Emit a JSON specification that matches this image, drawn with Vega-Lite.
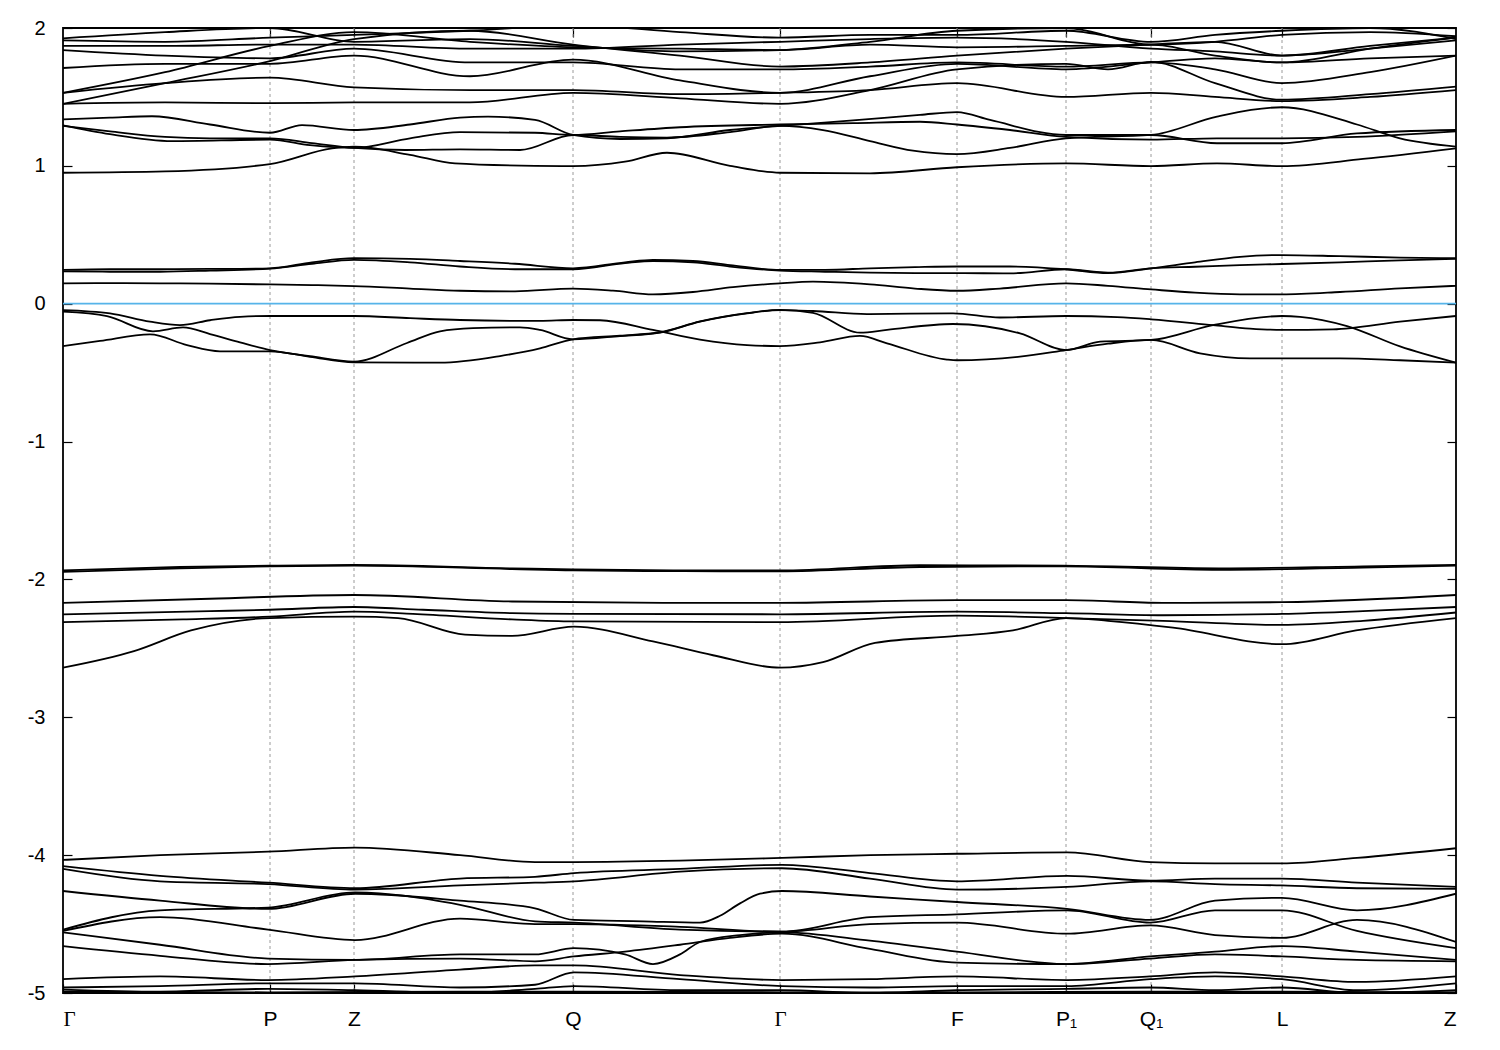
{
"$schema":"https://vega.github.io/schema/vega-lite/v6.json",
"width":1393,"height":965,
"autosize":{"type":"none"},
"padding":{"left":63,"top":28,"right":44,"bottom":57},
"background":"white",
"config":{"view":{"stroke":"#000","strokeWidth":1.8},"axis":{"labelFont":"Liberation Sans","labelFontSize":20,"labelColor":"#000","tickColor":"#000","tickWidth":1.2}},
"datasets":{
"sym":[{"k":207},{"k":291},{"k":510},{"k":717},{"k":894},{"k":1003},{"k":1088},{"k":1219}],
"fermi":[{"e":0}],
"bands":[
{"b":"C0","k":0,"e":0.148},{"b":"C0","k":47,"e":0.15},{"b":"C0","k":97,"e":0.148},{"b":"C0","k":147,"e":0.145},{"b":"C0","k":207,"e":0.14},{"b":"C0","k":249,"e":0.135},{"b":"C0","k":291,"e":0.128},{"b":"C0","k":347,"e":0.11},{"b":"C0","k":397,"e":0.094},{"b":"C0","k":452,"e":0.09},{"b":"C0","k":510,"e":0.11},{"b":"C0","k":550,"e":0.095},{"b":"C0","k":590,"e":0.068},{"b":"C0","k":630,"e":0.085},{"b":"C0","k":670,"e":0.12},{"b":"C0","k":717,"e":0.148},{"b":"C0","k":750,"e":0.16},{"b":"C0","k":807,"e":0.14},{"b":"C0","k":852,"e":0.11},{"b":"C0","k":894,"e":0.094},{"b":"C0","k":937,"e":0.11},{"b":"C0","k":1003,"e":0.148},{"b":"C0","k":1045,"e":0.13},{"b":"C0","k":1088,"e":0.104},{"b":"C0","k":1132,"e":0.08},{"b":"C0","k":1177,"e":0.068},{"b":"C0","k":1219,"e":0.068},{"b":"C0","k":1277,"e":0.085},{"b":"C0","k":1337,"e":0.112},{"b":"C0","k":1393,"e":0.13},
{"b":"C1","k":0,"e":0.245},{"b":"C1","k":47,"e":0.25},{"b":"C1","k":97,"e":0.25},{"b":"C1","k":147,"e":0.252},{"b":"C1","k":207,"e":0.257},{"b":"C1","k":249,"e":0.3},{"b":"C1","k":291,"e":0.33},{"b":"C1","k":347,"e":0.325},{"b":"C1","k":397,"e":0.31},{"b":"C1","k":452,"e":0.29},{"b":"C1","k":510,"e":0.257},{"b":"C1","k":562,"e":0.3},{"b":"C1","k":590,"e":0.317},{"b":"C1","k":630,"e":0.31},{"b":"C1","k":667,"e":0.28},{"b":"C1","k":717,"e":0.245},{"b":"C1","k":762,"e":0.245},{"b":"C1","k":807,"e":0.257},{"b":"C1","k":852,"e":0.265},{"b":"C1","k":894,"e":0.27},{"b":"C1","k":947,"e":0.27},{"b":"C1","k":1003,"e":0.25},{"b":"C1","k":1045,"e":0.222},{"b":"C1","k":1088,"e":0.257},{"b":"C1","k":1132,"e":0.3},{"b":"C1","k":1177,"e":0.34},{"b":"C1","k":1219,"e":0.353},{"b":"C1","k":1277,"e":0.345},{"b":"C1","k":1337,"e":0.335},{"b":"C1","k":1393,"e":0.33},
{"b":"C2","k":0,"e":0.235},{"b":"C2","k":47,"e":0.232},{"b":"C2","k":97,"e":0.232},{"b":"C2","k":147,"e":0.24},{"b":"C2","k":207,"e":0.255},{"b":"C2","k":249,"e":0.29},{"b":"C2","k":291,"e":0.318},{"b":"C2","k":347,"e":0.3},{"b":"C2","k":397,"e":0.27},{"b":"C2","k":452,"e":0.25},{"b":"C2","k":510,"e":0.25},{"b":"C2","k":562,"e":0.295},{"b":"C2","k":590,"e":0.31},{"b":"C2","k":630,"e":0.3},{"b":"C2","k":667,"e":0.27},{"b":"C2","k":717,"e":0.24},{"b":"C2","k":762,"e":0.232},{"b":"C2","k":807,"e":0.225},{"b":"C2","k":852,"e":0.222},{"b":"C2","k":894,"e":0.222},{"b":"C2","k":947,"e":0.22},{"b":"C2","k":1003,"e":0.25},{"b":"C2","k":1045,"e":0.225},{"b":"C2","k":1088,"e":0.257},{"b":"C2","k":1132,"e":0.268},{"b":"C2","k":1177,"e":0.28},{"b":"C2","k":1219,"e":0.288},{"b":"C2","k":1277,"e":0.3},{"b":"C2","k":1337,"e":0.315},{"b":"C2","k":1393,"e":0.325},
{"b":"V1","k":0,"e":-0.046},{"b":"V1","k":47,"e":-0.07},{"b":"V1","k":87,"e":-0.13},{"b":"V1","k":117,"e":-0.155},{"b":"V1","k":147,"e":-0.12},{"b":"V1","k":177,"e":-0.095},{"b":"V1","k":207,"e":-0.089},{"b":"V1","k":291,"e":-0.089},{"b":"V1","k":347,"e":-0.105},{"b":"V1","k":397,"e":-0.118},{"b":"V1","k":477,"e":-0.125},{"b":"V1","k":510,"e":-0.118},{"b":"V1","k":537,"e":-0.12},{"b":"V1","k":590,"e":-0.19},{"b":"V1","k":637,"e":-0.26},{"b":"V1","k":684,"e":-0.3},{"b":"V1","k":717,"e":-0.307},{"b":"V1","k":757,"e":-0.28},{"b":"V1","k":797,"e":-0.234},{"b":"V1","k":824,"e":-0.287},{"b":"V1","k":884,"e":-0.405},{"b":"V1","k":894,"e":-0.41},{"b":"V1","k":957,"e":-0.384},{"b":"V1","k":1003,"e":-0.336},{"b":"V1","k":1045,"e":-0.29},{"b":"V1","k":1088,"e":-0.263},{"b":"V1","k":1137,"e":-0.36},{"b":"V1","k":1187,"e":-0.396},{"b":"V1","k":1219,"e":-0.396},{"b":"V1","k":1277,"e":-0.396},{"b":"V1","k":1337,"e":-0.41},{"b":"V1","k":1393,"e":-0.428},
{"b":"V2","k":0,"e":-0.058},{"b":"V2","k":44,"e":-0.09},{"b":"V2","k":90,"e":-0.2},{"b":"V2","k":120,"e":-0.172},{"b":"V2","k":147,"e":-0.22},{"b":"V2","k":177,"e":-0.28},{"b":"V2","k":207,"e":-0.336},{"b":"V2","k":247,"e":-0.38},{"b":"V2","k":291,"e":-0.42},{"b":"V2","k":344,"e":-0.285},{"b":"V2","k":377,"e":-0.2},{"b":"V2","k":410,"e":-0.177},{"b":"V2","k":457,"e":-0.171},{"b":"V2","k":477,"e":-0.19},{"b":"V2","k":510,"e":-0.258},{"b":"V2","k":557,"e":-0.235},{"b":"V2","k":597,"e":-0.21},{"b":"V2","k":637,"e":-0.13},{"b":"V2","k":684,"e":-0.07},{"b":"V2","k":717,"e":-0.046},{"b":"V2","k":750,"e":-0.053},{"b":"V2","k":804,"e":-0.075},{"b":"V2","k":890,"e":-0.07},{"b":"V2","k":937,"e":-0.1},{"b":"V2","k":1003,"e":-0.089},{"b":"V2","k":1054,"e":-0.097},{"b":"V2","k":1088,"e":-0.113},{"b":"V2","k":1150,"e":-0.155},{"b":"V2","k":1187,"e":-0.18},{"b":"V2","k":1219,"e":-0.19},{"b":"V2","k":1270,"e":-0.186},{"b":"V2","k":1337,"e":-0.13},{"b":"V2","k":1393,"e":-0.089},
{"b":"V3","k":0,"e":-0.307},{"b":"V3","k":37,"e":-0.27},{"b":"V3","k":87,"e":-0.222},{"b":"V3","k":124,"e":-0.3},{"b":"V3","k":157,"e":-0.345},{"b":"V3","k":207,"e":-0.345},{"b":"V3","k":247,"e":-0.385},{"b":"V3","k":291,"e":-0.425},{"b":"V3","k":377,"e":-0.428},{"b":"V3","k":437,"e":-0.38},{"b":"V3","k":477,"e":-0.324},{"b":"V3","k":510,"e":-0.258},{"b":"V3","k":557,"e":-0.232},{"b":"V3","k":597,"e":-0.207},{"b":"V3","k":637,"e":-0.128},{"b":"V3","k":684,"e":-0.068},{"b":"V3","k":717,"e":-0.044},{"b":"V3","k":750,"e":-0.067},{"b":"V3","k":797,"e":-0.21},{"b":"V3","k":824,"e":-0.19},{"b":"V3","k":890,"e":-0.147},{"b":"V3","k":957,"e":-0.215},{"b":"V3","k":1003,"e":-0.336},{"b":"V3","k":1037,"e":-0.275},{"b":"V3","k":1088,"e":-0.263},{"b":"V3","k":1150,"e":-0.155},{"b":"V3","k":1219,"e":-0.089},{"b":"V3","k":1237,"e":-0.095},{"b":"V3","k":1284,"e":-0.162},{"b":"V3","k":1337,"e":-0.31},{"b":"V3","k":1393,"e":-0.428},
{"b":"D1","k":0,"e":-1.935},{"b":"D1","k":117,"e":-1.91},{"b":"D1","k":207,"e":-1.9},{"b":"D1","k":291,"e":-1.895},{"b":"D1","k":449,"e":-1.92},{"b":"D1","k":510,"e":-1.928},{"b":"D1","k":620,"e":-1.935},{"b":"D1","k":717,"e":-1.935},{"b":"D1","k":857,"e":-1.897},{"b":"D1","k":1000,"e":-1.9},{"b":"D1","k":1156,"e":-1.92},{"b":"D1","k":1300,"e":-1.905},{"b":"D1","k":1393,"e":-1.895},
{"b":"D2","k":0,"e":-1.945},{"b":"D2","k":117,"e":-1.92},{"b":"D2","k":207,"e":-1.905},{"b":"D2","k":291,"e":-1.9},{"b":"D2","k":449,"e":-1.925},{"b":"D2","k":510,"e":-1.935},{"b":"D2","k":620,"e":-1.94},{"b":"D2","k":717,"e":-1.942},{"b":"D2","k":857,"e":-1.91},{"b":"D2","k":1000,"e":-1.905},{"b":"D2","k":1156,"e":-1.93},{"b":"D2","k":1300,"e":-1.915},{"b":"D2","k":1393,"e":-1.9},
{"b":"D3","k":0,"e":-2.17},{"b":"D3","k":147,"e":-2.14},{"b":"D3","k":291,"e":-2.113},{"b":"D3","k":449,"e":-2.16},{"b":"D3","k":600,"e":-2.17},{"b":"D3","k":717,"e":-2.17},{"b":"D3","k":894,"e":-2.15},{"b":"D3","k":1003,"e":-2.15},{"b":"D3","k":1100,"e":-2.17},{"b":"D3","k":1219,"e":-2.165},{"b":"D3","k":1393,"e":-2.113},
{"b":"D4","k":0,"e":-2.253},{"b":"D4","k":147,"e":-2.23},{"b":"D4","k":207,"e":-2.22},{"b":"D4","k":291,"e":-2.2},{"b":"D4","k":360,"e":-2.22},{"b":"D4","k":449,"e":-2.245},{"b":"D4","k":510,"e":-2.25},{"b":"D4","k":717,"e":-2.253},{"b":"D4","k":894,"e":-2.234},{"b":"D4","k":1003,"e":-2.245},{"b":"D4","k":1100,"e":-2.26},{"b":"D4","k":1219,"e":-2.25},{"b":"D4","k":1300,"e":-2.23},{"b":"D4","k":1393,"e":-2.2},
{"b":"D5","k":0,"e":-2.31},{"b":"D5","k":120,"e":-2.29},{"b":"D5","k":207,"e":-2.27},{"b":"D5","k":291,"e":-2.234},{"b":"D5","k":350,"e":-2.25},{"b":"D5","k":449,"e":-2.29},{"b":"D5","k":510,"e":-2.305},{"b":"D5","k":717,"e":-2.31},{"b":"D5","k":894,"e":-2.262},{"b":"D5","k":1003,"e":-2.28},{"b":"D5","k":1100,"e":-2.3},{"b":"D5","k":1219,"e":-2.33},{"b":"D5","k":1300,"e":-2.3},{"b":"D5","k":1393,"e":-2.24},
{"b":"D6","k":0,"e":-2.64},{"b":"D6","k":71,"e":-2.52},{"b":"D6","k":128,"e":-2.37},{"b":"D6","k":207,"e":-2.28},{"b":"D6","k":291,"e":-2.27},{"b":"D6","k":335,"e":-2.28},{"b":"D6","k":402,"e":-2.4},{"b":"D6","k":449,"e":-2.41},{"b":"D6","k":511,"e":-2.343},{"b":"D6","k":590,"e":-2.45},{"b":"D6","k":650,"e":-2.55},{"b":"D6","k":717,"e":-2.64},{"b":"D6","k":760,"e":-2.6},{"b":"D6","k":812,"e":-2.46},{"b":"D6","k":894,"e":-2.41},{"b":"D6","k":950,"e":-2.37},{"b":"D6","k":1003,"e":-2.28},{"b":"D6","k":1045,"e":-2.3},{"b":"D6","k":1110,"e":-2.35},{"b":"D6","k":1219,"e":-2.47},{"b":"D6","k":1293,"e":-2.37},{"b":"D6","k":1393,"e":-2.28},
{"b":"U1","k":0,"e":0.95},{"b":"U1","k":102,"e":0.96},{"b":"U1","k":207,"e":1.013},{"b":"U1","k":269,"e":1.127},{"b":"U1","k":291,"e":1.139},{"b":"U1","k":347,"e":1.08},{"b":"U1","k":392,"e":1.018},{"b":"U1","k":472,"e":1.0},{"b":"U1","k":510,"e":0.998},{"b":"U1","k":562,"e":1.03},{"b":"U1","k":604,"e":1.095},{"b":"U1","k":667,"e":1.0},{"b":"U1","k":717,"e":0.95},{"b":"U1","k":807,"e":0.946},{"b":"U1","k":894,"e":0.99},{"b":"U1","k":1003,"e":1.018},{"b":"U1","k":1088,"e":0.998},{"b":"U1","k":1154,"e":1.018},{"b":"U1","k":1219,"e":0.998},{"b":"U1","k":1300,"e":1.05},{"b":"U1","k":1393,"e":1.127},
{"b":"U2","k":0,"e":1.29},{"b":"U2","k":47,"e":1.25},{"b":"U2","k":102,"e":1.21},{"b":"U2","k":147,"e":1.2},{"b":"U2","k":207,"e":1.2},{"b":"U2","k":249,"e":1.165},{"b":"U2","k":291,"e":1.13},{"b":"U2","k":342,"e":1.115},{"b":"U2","k":397,"e":1.12},{"b":"U2","k":457,"e":1.115},{"b":"U2","k":510,"e":1.224},{"b":"U2","k":557,"e":1.21},{"b":"U2","k":604,"e":1.205},{"b":"U2","k":667,"e":1.245},{"b":"U2","k":717,"e":1.29},{"b":"U2","k":760,"e":1.26},{"b":"U2","k":807,"e":1.18},{"b":"U2","k":850,"e":1.11},{"b":"U2","k":894,"e":1.085},{"b":"U2","k":947,"e":1.13},{"b":"U2","k":1003,"e":1.2},{"b":"U2","k":1088,"e":1.224},{"b":"U2","k":1154,"e":1.357},{"b":"U2","k":1219,"e":1.425},{"b":"U2","k":1294,"e":1.3},{"b":"U2","k":1337,"e":1.2},{"b":"U2","k":1393,"e":1.14},
{"b":"U3","k":0,"e":1.337},{"b":"U3","k":47,"e":1.35},{"b":"U3","k":89,"e":1.36},{"b":"U3","k":147,"e":1.3},{"b":"U3","k":207,"e":1.24},{"b":"U3","k":239,"e":1.296},{"b":"U3","k":291,"e":1.26},{"b":"U3","k":347,"e":1.3},{"b":"U3","k":397,"e":1.35},{"b":"U3","k":425,"e":1.357},{"b":"U3","k":472,"e":1.333},{"b":"U3","k":510,"e":1.224},{"b":"U3","k":557,"e":1.195},{"b":"U3","k":604,"e":1.2},{"b":"U3","k":667,"e":1.26},{"b":"U3","k":717,"e":1.29},{"b":"U3","k":790,"e":1.33},{"b":"U3","k":857,"e":1.37},{"b":"U3","k":894,"e":1.39},{"b":"U3","k":927,"e":1.333},{"b":"U3","k":1003,"e":1.224},{"b":"U3","k":1088,"e":1.224},{"b":"U3","k":1154,"e":1.164},{"b":"U3","k":1219,"e":1.164},{"b":"U3","k":1294,"e":1.235},{"b":"U3","k":1393,"e":1.26},
{"b":"U4","k":0,"e":1.294},{"b":"U4","k":47,"e":1.23},{"b":"U4","k":109,"e":1.18},{"b":"U4","k":207,"e":1.19},{"b":"U4","k":247,"e":1.15},{"b":"U4","k":291,"e":1.13},{"b":"U4","k":347,"e":1.2},{"b":"U4","k":397,"e":1.245},{"b":"U4","k":472,"e":1.24},{"b":"U4","k":510,"e":1.224},{"b":"U4","k":557,"e":1.25},{"b":"U4","k":617,"e":1.28},{"b":"U4","k":717,"e":1.3},{"b":"U4","k":790,"e":1.31},{"b":"U4","k":857,"e":1.32},{"b":"U4","k":894,"e":1.3},{"b":"U4","k":947,"e":1.26},{"b":"U4","k":1003,"e":1.21},{"b":"U4","k":1088,"e":1.19},{"b":"U4","k":1154,"e":1.2},{"b":"U4","k":1219,"e":1.2},{"b":"U4","k":1294,"e":1.21},{"b":"U4","k":1393,"e":1.25},
{"b":"U5","k":0,"e":1.45},{"b":"U5","k":102,"e":1.46},{"b":"U5","k":207,"e":1.455},{"b":"U5","k":291,"e":1.46},{"b":"U5","k":407,"e":1.46},{"b":"U5","k":510,"e":1.53},{"b":"U5","k":617,"e":1.49},{"b":"U5","k":717,"e":1.45},{"b":"U5","k":807,"e":1.55},{"b":"U5","k":894,"e":1.7},{"b":"U5","k":1003,"e":1.74},{"b":"U5","k":1045,"e":1.7},{"b":"U5","k":1088,"e":1.755},{"b":"U5","k":1152,"e":1.6},{"b":"U5","k":1219,"e":1.48},{"b":"U5","k":1307,"e":1.52},{"b":"U5","k":1393,"e":1.575},
{"b":"U6","k":0,"e":1.53},{"b":"U6","k":102,"e":1.6},{"b":"U6","k":207,"e":1.64},{"b":"U6","k":291,"e":1.57},{"b":"U6","k":407,"e":1.55},{"b":"U6","k":510,"e":1.55},{"b":"U6","k":617,"e":1.52},{"b":"U6","k":717,"e":1.53},{"b":"U6","k":807,"e":1.55},{"b":"U6","k":894,"e":1.6},{"b":"U6","k":1003,"e":1.5},{"b":"U6","k":1088,"e":1.53},{"b":"U6","k":1152,"e":1.5},{"b":"U6","k":1219,"e":1.47},{"b":"U6","k":1307,"e":1.5},{"b":"U6","k":1393,"e":1.55},
{"b":"U7","k":0,"e":1.45},{"b":"U7","k":102,"e":1.6},{"b":"U7","k":207,"e":1.76},{"b":"U7","k":291,"e":1.92},{"b":"U7","k":407,"e":1.98},{"b":"U7","k":510,"e":1.88},{"b":"U7","k":617,"e":1.8},{"b":"U7","k":717,"e":1.72},{"b":"U7","k":807,"e":1.75},{"b":"U7","k":894,"e":1.8},{"b":"U7","k":1003,"e":1.85},{"b":"U7","k":1088,"e":1.88},{"b":"U7","k":1152,"e":1.9},{"b":"U7","k":1219,"e":1.8},{"b":"U7","k":1307,"e":1.85},{"b":"U7","k":1393,"e":1.91},
{"b":"U8","k":0,"e":1.53},{"b":"U8","k":102,"e":1.68},{"b":"U8","k":207,"e":1.87},{"b":"U8","k":291,"e":1.97},{"b":"U8","k":407,"e":1.9},{"b":"U8","k":510,"e":1.86},{"b":"U8","k":617,"e":1.85},{"b":"U8","k":717,"e":1.84},{"b":"U8","k":807,"e":1.88},{"b":"U8","k":894,"e":1.86},{"b":"U8","k":1003,"e":1.87},{"b":"U8","k":1088,"e":1.88},{"b":"U8","k":1152,"e":1.8},{"b":"U8","k":1219,"e":1.75},{"b":"U8","k":1307,"e":1.85},{"b":"U8","k":1393,"e":1.93},
{"b":"U9","k":0,"e":1.71},{"b":"U9","k":102,"e":1.74},{"b":"U9","k":207,"e":1.74},{"b":"U9","k":291,"e":1.8},{"b":"U9","k":407,"e":1.65},{"b":"U9","k":510,"e":1.77},{"b":"U9","k":617,"e":1.62},{"b":"U9","k":717,"e":1.53},{"b":"U9","k":807,"e":1.65},{"b":"U9","k":894,"e":1.74},{"b":"U9","k":1003,"e":1.7},{"b":"U9","k":1088,"e":1.75},{"b":"U9","k":1152,"e":1.78},{"b":"U9","k":1219,"e":1.75},{"b":"U9","k":1307,"e":1.78},{"b":"U9","k":1393,"e":1.8},
{"b":"U10","k":0,"e":1.87},{"b":"U10","k":102,"e":1.87},{"b":"U10","k":207,"e":1.88},{"b":"U10","k":291,"e":1.88},{"b":"U10","k":407,"e":1.85},{"b":"U10","k":510,"e":1.85},{"b":"U10","k":617,"e":1.88},{"b":"U10","k":717,"e":1.9},{"b":"U10","k":807,"e":1.92},{"b":"U10","k":894,"e":1.93},{"b":"U10","k":1003,"e":1.9},{"b":"U10","k":1088,"e":1.85},{"b":"U10","k":1152,"e":1.83},{"b":"U10","k":1219,"e":1.8},{"b":"U10","k":1307,"e":1.87},{"b":"U10","k":1393,"e":1.93},
{"b":"U11","k":0,"e":1.925},{"b":"U11","k":102,"e":1.97},{"b":"U11","k":207,"e":2.0},{"b":"U11","k":291,"e":1.9},{"b":"U11","k":407,"e":1.92},{"b":"U11","k":510,"e":1.87},{"b":"U11","k":617,"e":1.83},{"b":"U11","k":717,"e":1.84},{"b":"U11","k":807,"e":1.9},{"b":"U11","k":894,"e":1.98},{"b":"U11","k":1003,"e":2.0},{"b":"U11","k":1088,"e":1.88},{"b":"U11","k":1152,"e":1.9},{"b":"U11","k":1219,"e":1.95},{"b":"U11","k":1307,"e":1.97},{"b":"U11","k":1393,"e":1.94},
{"b":"U12","k":0,"e":1.91},{"b":"U12","k":102,"e":1.9},{"b":"U12","k":207,"e":1.93},{"b":"U12","k":291,"e":1.95},{"b":"U12","k":407,"e":1.98},{"b":"U12","k":510,"e":2.02},{"b":"U12","k":617,"e":1.97},{"b":"U12","k":717,"e":1.93},{"b":"U12","k":807,"e":1.95},{"b":"U12","k":894,"e":1.95},{"b":"U12","k":1003,"e":1.98},{"b":"U12","k":1088,"e":1.9},{"b":"U12","k":1152,"e":1.95},{"b":"U12","k":1219,"e":1.98},{"b":"U12","k":1307,"e":2.0},{"b":"U12","k":1393,"e":1.92},
{"b":"U13","k":0,"e":1.84},{"b":"U13","k":102,"e":1.8},{"b":"U13","k":207,"e":1.78},{"b":"U13","k":291,"e":1.85},{"b":"U13","k":407,"e":1.75},{"b":"U13","k":510,"e":1.75},{"b":"U13","k":617,"e":1.7},{"b":"U13","k":717,"e":1.7},{"b":"U13","k":807,"e":1.72},{"b":"U13","k":894,"e":1.75},{"b":"U13","k":1003,"e":1.72},{"b":"U13","k":1088,"e":1.75},{"b":"U13","k":1152,"e":1.7},{"b":"U13","k":1219,"e":1.6},{"b":"U13","k":1307,"e":1.68},{"b":"U13","k":1393,"e":1.8},
{"b":"B1","k":0,"e":-4.035},{"b":"B1","k":97,"e":-4.0},{"b":"B1","k":205,"e":-3.975},{"b":"B1","k":292,"e":-3.945},{"b":"B1","k":397,"e":-4.0},{"b":"B1","k":472,"e":-4.05},{"b":"B1","k":511,"e":-4.05},{"b":"B1","k":617,"e":-4.04},{"b":"B1","k":719,"e":-4.02},{"b":"B1","k":807,"e":-4.0},{"b":"B1","k":894,"e":-3.99},{"b":"B1","k":1004,"e":-3.98},{"b":"B1","k":1087,"e":-4.05},{"b":"B1","k":1152,"e":-4.06},{"b":"B1","k":1219,"e":-4.06},{"b":"B1","k":1294,"e":-4.02},{"b":"B1","k":1393,"e":-3.95},
{"b":"B2","k":0,"e":-4.08},{"b":"B2","k":97,"e":-4.15},{"b":"B2","k":205,"e":-4.2},{"b":"B2","k":292,"e":-4.24},{"b":"B2","k":397,"e":-4.17},{"b":"B2","k":472,"e":-4.157},{"b":"B2","k":511,"e":-4.13},{"b":"B2","k":617,"e":-4.1},{"b":"B2","k":719,"e":-4.07},{"b":"B2","k":807,"e":-4.13},{"b":"B2","k":894,"e":-4.19},{"b":"B2","k":1004,"e":-4.15},{"b":"B2","k":1087,"e":-4.185},{"b":"B2","k":1152,"e":-4.17},{"b":"B2","k":1219,"e":-4.17},{"b":"B2","k":1294,"e":-4.2},{"b":"B2","k":1393,"e":-4.23},
{"b":"B3","k":0,"e":-4.1},{"b":"B3","k":97,"e":-4.19},{"b":"B3","k":205,"e":-4.21},{"b":"B3","k":292,"e":-4.25},{"b":"B3","k":397,"e":-4.22},{"b":"B3","k":472,"e":-4.2},{"b":"B3","k":511,"e":-4.19},{"b":"B3","k":617,"e":-4.12},{"b":"B3","k":719,"e":-4.095},{"b":"B3","k":807,"e":-4.17},{"b":"B3","k":894,"e":-4.25},{"b":"B3","k":1004,"e":-4.23},{"b":"B3","k":1087,"e":-4.19},{"b":"B3","k":1152,"e":-4.21},{"b":"B3","k":1219,"e":-4.22},{"b":"B3","k":1294,"e":-4.24},{"b":"B3","k":1393,"e":-4.245},
{"b":"B4","k":0,"e":-4.26},{"b":"B4","k":97,"e":-4.33},{"b":"B4","k":205,"e":-4.39},{"b":"B4","k":292,"e":-4.28},{"b":"B4","k":397,"e":-4.33},{"b":"B4","k":472,"e":-4.386},{"b":"B4","k":511,"e":-4.47},{"b":"B4","k":580,"e":-4.48},{"b":"B4","k":637,"e":-4.49},{"b":"B4","k":657,"e":-4.44},{"b":"B4","k":677,"e":-4.35},{"b":"B4","k":697,"e":-4.28},{"b":"B4","k":719,"e":-4.26},{"b":"B4","k":807,"e":-4.3},{"b":"B4","k":894,"e":-4.34},{"b":"B4","k":1004,"e":-4.39},{"b":"B4","k":1087,"e":-4.47},{"b":"B4","k":1152,"e":-4.33},{"b":"B4","k":1219,"e":-4.31},{"b":"B4","k":1294,"e":-4.4},{"b":"B4","k":1393,"e":-4.28},
{"b":"B5","k":0,"e":-4.54},{"b":"B5","k":97,"e":-4.4},{"b":"B5","k":205,"e":-4.38},{"b":"B5","k":292,"e":-4.27},{"b":"B5","k":397,"e":-4.36},{"b":"B5","k":472,"e":-4.48},{"b":"B5","k":511,"e":-4.49},{"b":"B5","k":617,"e":-4.54},{"b":"B5","k":719,"e":-4.555},{"b":"B5","k":807,"e":-4.45},{"b":"B5","k":894,"e":-4.43},{"b":"B5","k":1004,"e":-4.4},{"b":"B5","k":1087,"e":-4.49},{"b":"B5","k":1152,"e":-4.4},{"b":"B5","k":1219,"e":-4.4},{"b":"B5","k":1294,"e":-4.55},{"b":"B5","k":1393,"e":-4.675},
{"b":"B6","k":0,"e":-4.55},{"b":"B6","k":97,"e":-4.45},{"b":"B6","k":205,"e":-4.54},{"b":"B6","k":292,"e":-4.616},{"b":"B6","k":397,"e":-4.46},{"b":"B6","k":472,"e":-4.5},{"b":"B6","k":511,"e":-4.5},{"b":"B6","k":617,"e":-4.52},{"b":"B6","k":719,"e":-4.555},{"b":"B6","k":807,"e":-4.5},{"b":"B6","k":894,"e":-4.49},{"b":"B6","k":1004,"e":-4.57},{"b":"B6","k":1087,"e":-4.51},{"b":"B6","k":1152,"e":-4.58},{"b":"B6","k":1219,"e":-4.6},{"b":"B6","k":1294,"e":-4.47},{"b":"B6","k":1393,"e":-4.63},
{"b":"B7","k":0,"e":-4.56},{"b":"B7","k":97,"e":-4.65},{"b":"B7","k":205,"e":-4.75},{"b":"B7","k":292,"e":-4.76},{"b":"B7","k":397,"e":-4.72},{"b":"B7","k":472,"e":-4.72},{"b":"B7","k":511,"e":-4.675},{"b":"B7","k":562,"e":-4.72},{"b":"B7","k":590,"e":-4.79},{"b":"B7","k":617,"e":-4.72},{"b":"B7","k":637,"e":-4.63},{"b":"B7","k":677,"e":-4.58},{"b":"B7","k":719,"e":-4.56},{"b":"B7","k":807,"e":-4.62},{"b":"B7","k":894,"e":-4.7},{"b":"B7","k":1004,"e":-4.79},{"b":"B7","k":1087,"e":-4.735},{"b":"B7","k":1152,"e":-4.7},{"b":"B7","k":1219,"e":-4.66},{"b":"B7","k":1294,"e":-4.7},{"b":"B7","k":1393,"e":-4.76},
{"b":"B8","k":0,"e":-4.66},{"b":"B8","k":97,"e":-4.73},{"b":"B8","k":205,"e":-4.79},{"b":"B8","k":292,"e":-4.76},{"b":"B8","k":397,"e":-4.75},{"b":"B8","k":472,"e":-4.77},{"b":"B8","k":511,"e":-4.735},{"b":"B8","k":562,"e":-4.7},{"b":"B8","k":617,"e":-4.65},{"b":"B8","k":667,"e":-4.6},{"b":"B8","k":719,"e":-4.57},{"b":"B8","k":807,"e":-4.68},{"b":"B8","k":894,"e":-4.78},{"b":"B8","k":1004,"e":-4.79},{"b":"B8","k":1087,"e":-4.75},{"b":"B8","k":1152,"e":-4.72},{"b":"B8","k":1219,"e":-4.735},{"b":"B8","k":1294,"e":-4.76},{"b":"B8","k":1393,"e":-4.77},
{"b":"B9","k":0,"e":-4.9},{"b":"B9","k":97,"e":-4.88},{"b":"B9","k":205,"e":-4.906},{"b":"B9","k":292,"e":-4.88},{"b":"B9","k":397,"e":-4.83},{"b":"B9","k":472,"e":-4.8},{"b":"B9","k":511,"e":-4.8},{"b":"B9","k":617,"e":-4.87},{"b":"B9","k":719,"e":-4.906},{"b":"B9","k":807,"e":-4.9},{"b":"B9","k":894,"e":-4.88},{"b":"B9","k":1004,"e":-4.906},{"b":"B9","k":1087,"e":-4.88},{"b":"B9","k":1152,"e":-4.85},{"b":"B9","k":1219,"e":-4.88},{"b":"B9","k":1294,"e":-4.92},{"b":"B9","k":1393,"e":-4.88},
{"b":"B10","k":0,"e":-4.96},{"b":"B10","k":97,"e":-4.95},{"b":"B10","k":205,"e":-4.93},{"b":"B10","k":292,"e":-4.93},{"b":"B10","k":397,"e":-4.96},{"b":"B10","k":472,"e":-4.94},{"b":"B10","k":511,"e":-4.85},{"b":"B10","k":617,"e":-4.9},{"b":"B10","k":719,"e":-4.95},{"b":"B10","k":807,"e":-4.96},{"b":"B10","k":894,"e":-4.95},{"b":"B10","k":1004,"e":-4.95},{"b":"B10","k":1087,"e":-4.9},{"b":"B10","k":1152,"e":-4.88},{"b":"B10","k":1219,"e":-4.9},{"b":"B10","k":1294,"e":-4.98},{"b":"B10","k":1393,"e":-4.93},
{"b":"B11","k":0,"e":-4.975},{"b":"B11","k":97,"e":-4.99},{"b":"B11","k":205,"e":-4.97},{"b":"B11","k":292,"e":-4.98},{"b":"B11","k":397,"e":-5.0},{"b":"B11","k":472,"e":-4.97},{"b":"B11","k":511,"e":-4.95},{"b":"B11","k":617,"e":-4.98},{"b":"B11","k":719,"e":-4.98},{"b":"B11","k":807,"e":-5.0},{"b":"B11","k":894,"e":-4.98},{"b":"B11","k":1004,"e":-4.97},{"b":"B11","k":1087,"e":-4.96},{"b":"B11","k":1152,"e":-4.98},{"b":"B11","k":1219,"e":-4.96},{"b":"B11","k":1294,"e":-5.0},{"b":"B11","k":1393,"e":-4.98},
{"b":"B12","k":0,"e":-4.99},{"b":"B12","k":205,"e":-4.995},{"b":"B12","k":397,"e":-4.99},{"b":"B12","k":511,"e":-4.99},{"b":"B12","k":719,"e":-4.995},{"b":"B12","k":894,"e":-4.995},{"b":"B12","k":1087,"e":-4.99},{"b":"B12","k":1219,"e":-4.99},{"b":"B12","k":1393,"e":-4.995}
]},
"resolve":{"axis":{"x":"independent","y":"independent"}},
"layer":[
{"data":{"name":"sym"},
 "mark":{"type":"rule","color":"#9a9a9a","strokeDash":[3,3],"strokeWidth":1},
 "encoding":{"x":{"field":"k","type":"quantitative","scale":{"domain":[0,1393],"nice":false,"zero":false},
   "axis":{"orient":"top","values":[207,291,510,717,894,1003,1088,1219],"labels":false,"tickSize":-9,"domain":false,"grid":false,"title":null}}}},
{"data":{"name":"fermi"},
 "mark":{"type":"rule","color":"#56B4E9","strokeWidth":1.8},
 "encoding":{"y":{"field":"e","type":"quantitative","scale":{"domain":[-5,2],"nice":false,"zero":false},
   "axis":{"orient":"right","values":[-5,-4,-3,-2,-1,0,1,2],"labels":false,"tickSize":-9,"domain":false,"grid":false,"title":null}}}},
{"data":{"name":"bands"},
 "mark":{"type":"line","color":"#000","strokeWidth":1.8,"interpolate":"monotone","clip":true},
 "encoding":{
  "x":{"field":"k","type":"quantitative","scale":{"domain":[0,1393],"nice":false,"zero":false},
   "axis":{"orient":"bottom","values":[0,207,291,510,717,894,1003,1088,1219,1393],"tickSize":-9,"labelPadding":24,"labelFontSize":21,"domain":false,"grid":false,"title":null,
    "labelFont":{"condition":{"test":"datum.value==0||datum.value==717","value":"Liberation Serif"},"value":"Liberation Sans"},
    "labelExpr":"datum.value==0?'Γ':datum.value==207?'P':datum.value==291?'Z':datum.value==510?'Q':datum.value==717?'Γ':datum.value==894?'F':datum.value==1003?'P₁':datum.value==1088?'Q₁':datum.value==1219?'L':'Z'"}},
  "y":{"field":"e","type":"quantitative","scale":{"domain":[-5,2],"nice":false,"zero":false},
   "axis":{"orient":"left","values":[-5,-4,-3,-2,-1,0,1,2],"tickSize":-9,"labelPadding":27,"domain":false,"grid":false,"title":null,"labelExpr":"datum.value+''"}},
  "detail":{"field":"b","type":"nominal"}}}
]
}
